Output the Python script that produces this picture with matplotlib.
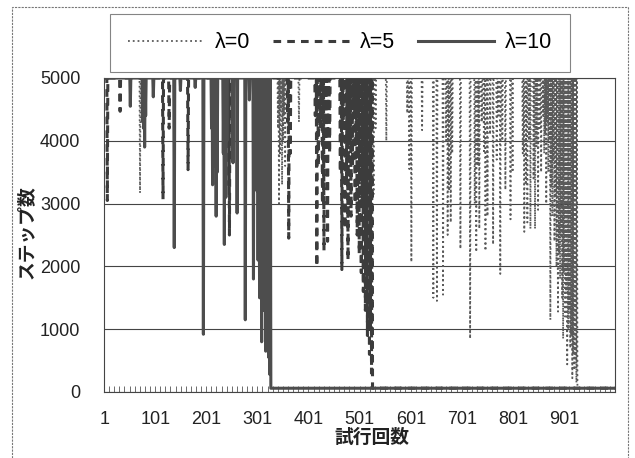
import numpy as np
import matplotlib
matplotlib.use('Agg')
import matplotlib.pyplot as plt
from matplotlib.patches import Rectangle

plt.rcParams['font.family'] = ['Liberation Sans', 'DejaVu Sans']

# data
n_trials = 1000
max_steps = 5000          # episode cut off
converged_steps = 60      # steps after learning has settled

lam0_dip_trials = [71, 341, 343, 345, 347, 349, 351, 353, 355, 382, 528, 532, 553,
                   594, 598, 602, 623, 645, 652, 664, 670, 673, 676, 679, 682, 698,
                   717, 726, 729, 732, 735, 740, 744, 747, 751, 756, 762, 769, 772,
                   776, 780, 786, 796, 800, 820, 823, 826, 829, 832, 835, 841, 844,
                   847, 850, 853, 856, 860, 862, 864, 866, 868, 870, 872, 874, 876,
                   878, 880, 882, 884, 886, 888, 889, 891, 893, 895, 897, 899, 901,
                   903, 905, 907, 909, 911, 913, 915, 917, 919, 921, 923, 925]
lam0_dip_steps = [3170, 4200, 3000, 3800, 4500, 3300, 4000, 4400, 3600, 4300, 3150, 4200, 4000,
                  4440, 3550, 2070, 4170, 1500, 1450, 1550, 4000, 2500, 3200, 2700, 3800, 2280,
                  850, 3000, 2230, 3600, 2600, 4300, 3800, 2250, 2800, 4100, 2350, 3700, 4400,
                  1880, 4000, 3220, 2750, 3500, 3800, 2550, 3300, 2700, 4000, 2600, 3400, 2600,
                  3900, 2900, 4200, 3500, 4400, 3800, 4100, 3000, 4300, 3500, 4000, 1150, 3300,
                  2800, 3700, 2400, 3100, 2000, 2700, 1280, 2200, 1800, 2500, 1500, 850, 1900,
                  1200, 1600, 440, 1000, 1300, 700, 900, 220, 600, 350, 500, 150]
lam0_converge = 927

lam5_dip_trials = [7, 32, 116, 128, 165, 244, 246, 360, 362, 365,
                   414, 417, 420, 424, 428, 431, 435, 438, 442,
                   463, 466, 469, 472, 475, 478, 481, 484, 487,
                   490, 492, 494, 496, 498, 500, 502, 504, 506, 508, 510, 512,
                   514, 516, 518, 520, 522, 524]
lam5_dip_steps = [3050, 4470, 3070, 4200, 3540, 3300, 2500, 4300, 2450, 3800,
                  4400, 2000, 3600, 4200, 3000, 2250, 4000, 2400, 3800,
                  3500, 1950, 4200, 2600, 3300, 2100, 4000, 2800, 3600,
                  4500, 3000, 4000, 2500, 3800, 2200, 3500, 1900, 3000, 1600, 2500, 1300,
                  2000, 900, 1500, 600, 1000, 300]
lam5_converge = 526

lam10_dip_trials = [52, 76, 78, 80, 82, 97, 138, 150, 179, 195, 211, 213, 216, 218,
                    220, 222, 234, 236, 239, 241, 253, 261, 277, 285, 293, 300, 302,
                    304, 305, 307, 309, 311, 313, 315, 317, 319, 321, 323, 325]
lam10_dip_steps = [4550, 4300, 4200, 3900, 4400, 4700, 2300, 4800, 4850, 920, 4200, 3300, 4000, 3600,
                   2800, 3500, 3800, 2350, 3100, 4000, 3650, 2850, 1150, 4650, 1800, 3200, 2100,
                   4000, 1500, 3000, 800, 2500, 1300, 3500, 650, 1800, 900, 550, 280]
lam10_converge = 327

series_labels = ['λ=0', 'λ=5', 'λ=10']
xtick_labels = ['1', '101', '201', '301', '401', '501', '601', '701', '801', '901']


def build_series(dip_trials, dip_steps, converge_trial):
    steps = np.full(n_trials, max_steps, dtype=float)
    steps[np.array(dip_trials) - 1] = dip_steps
    steps[converge_trial - 1:] = converged_steps
    return steps


trials = np.arange(1, n_trials + 1)
lam0 = build_series(lam0_dip_trials, lam0_dip_steps, lam0_converge)
lam5 = build_series(lam5_dip_trials, lam5_dip_steps, lam5_converge)
lam10 = build_series(lam10_dip_trials, lam10_dip_steps, lam10_converge)

fig = plt.figure(figsize=(6.35, 4.58), dpi=100)
ax = fig.add_axes([104 / 635, 66 / 458, 511 / 635, 314 / 458])

l0, = ax.plot(trials, lam0, color='#5a5a5a', lw=1.3, ls=':', zorder=2)
l5, = ax.plot(trials, lam5, color='#3c3c3c', lw=2.2, ls=(0, (2.5, 2)), zorder=3)
l10, = ax.plot(trials, lam10, color='#4d4d4d', lw=2.2, ls='-', zorder=4)

ax.set_xlim(0.5, n_trials + 0.5)
ax.set_ylim(0, max_steps)
ax.set_yticks(range(0, max_steps + 1, 1000))
ax.set_xticks([int(s) for s in xtick_labels])
ax.set_xticklabels(xtick_labels)
ax.set_xticks(np.arange(0.5, n_trials + 1, 10), minor=True)
ax.tick_params(axis='y', length=0, pad=17, labelsize=13, labelcolor='#222')
ax.tick_params(axis='x', which='major', length=0, pad=14, labelsize=13, labelcolor='#222')
ax.tick_params(axis='x', which='minor', direction='in', length=4, width=0.6, color='#555')
ax.yaxis.grid(True, color='#444', lw=0.8)
ax.set_axisbelow(True)
for sp in ax.spines.values():
    sp.set_color('#444')
    sp.set_linewidth(0.8)

fig.text(372 / 635, 1 - 437 / 458, '試行回数', ha='center', va='center',
         fontsize=13.5, fontweight='bold', family=['Noto Sans CJK JP'], color='#222')
fig.text(26 / 635, 1 - 232 / 458, 'ステップ数', ha='center', va='center', rotation=90,
         fontsize=13.5, fontweight='bold', family=['Noto Sans CJK JP'], color='#222')

leg = fig.legend([l0, l5, l10], series_labels, loc='upper left',
                 bbox_to_anchor=(110 / 635, 1 - 14 / 458), ncol=3, fontsize=15.5,
                 handlelength=3.5, handletextpad=0.5, columnspacing=1.1,
                 fancybox=False, edgecolor='#666', borderpad=0.85, borderaxespad=0)
leg.get_frame().set_linewidth(0.8)

# outer border of the chart area
fig.patches.append(Rectangle((12 / 635, -0.05), 616 / 635, 1.05 - 7 / 458,
                             transform=fig.transFigure, fill=False, ec='#777',
                             lw=0.8, ls=(0, (2, 1))))

fig.savefig('out.png', dpi=100)
